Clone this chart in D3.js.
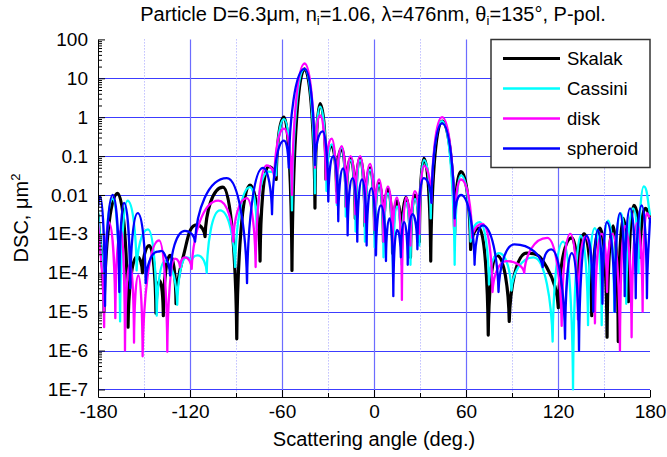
<!DOCTYPE html>
<html><head><meta charset="utf-8">
<script src="https://cdn.jsdelivr.net/npm/d3@7"></script>
<style>body{margin:0;background:#fff}svg{display:block;font-family:"Liberation Sans",Arial,sans-serif}</style>
</head><body>
<svg id="c" width="667" height="457"></svg>
<script>
// ---------------- data (angle in degrees, DSC in µm²) ----------------
const seriesNames = ["Skalak", "Cassini", "disk", "spheroid"];
const seriesColors = ["#000000", "#00ffff", "#ff00ff", "#0000ff"];
const xTickValues = [-180, -120, -60, 0, 60, 120, 180];
const xTickLabels = ["-180", "-120", "-60", "0", "60", "120", "180"];
const yTickValues = [100, 10, 1, 0.1, 0.01, 1e-3, 1e-4, 1e-5, 1e-6, 1e-7];
const yTickLabels = ["100", "10", "1", "0.1", "0.01", "1E-3", "1E-4", "1E-5", "1E-6", "1E-7"];

const skalak = [[-180,3.2e-3],[-176,1e-5],[-167.2,1.1e-2],[-160.4,4e-6],[-154.6,2.6e-4],[-151,1e-4],[-146.5,5e-4],
[-142.2,9.1e-6],[-139.8,6.3e-5],[-137.4,7.9e-6],[-133,2.8e-4],[-129.1,1.6e-5],[-124.4,2.6e-4],[-115.6,1.7e-3],
[-110.2,8.5e-4],[-98.5,1.6e-2],[-89.5,2e-6],[-80.9,1.8e-2],[-74.3,2e-4],[-68.9,5.4e-2],[-63.8,2.5e-2],[-58.7,1.0],
[-53.5,1.15e-4],[-45.3,17.4],[-38.5,4.6e-3],[-35.2,2.24],[-31.3,2.5e-2],[-27.6,0.18],[-24.4,1.26e-2],[-21.1,0.16],
[-18.2,5e-3],[-15.2,8.9e-2],[-12.2,2.5e-3],[-9.1,8.9e-2],[-5.9,1.6e-3],[-2.6,5e-2],[0.4,1e-3],[3.3,2e-2],[6.2,6.3e-4],
[9.1,1.4e-2],[12.1,3.2e-4],[15,7.1e-3],[18,4e-4],[20.9,8.7e-3],[23.8,2.5e-4],[26.7,1e-2],[29.6,6.3e-4],[32.6,8.7e-2],
[37.0,2e-4],[44.4,0.79],[52.6,1e-3],[56.7,4e-2],[63,4e-4],[68.5,1.4e-3],[74.5,2.5e-6],[80,2.8e-4],[88.2,5.6e-6],
[99.6,3.2e-4],[112.6,1.4e-4],[120.2,1.26e-5],[129,7.9e-4],[133,3.2e-5],[137,1e-3],[142,7.9e-6],[147.4,1.4e-3],
[152,2.2e-6],[156,1.6e-3],[159.3,1.7e-6],[162.5,2.5e-3],[165.9,1.8e-5],[169.5,5.4e-3],[173.5,2.5e-4],[177,4.5e-3],[180,2.5e-3]];

const cassini = [[-180,4e-3],[-176,1e-5],[-170.5,7.9e-3],[-165.6,5.6e-6],[-160.7,7.1e-3],[-154.8,1.15e-4],[-147.4,1.3e-3],
[-141.7,7.9e-6],[-136.3,2e-4],[-128.3,1.5e-5],[-122.2,2.5e-4],[-119,1.9e-4],[-115,2.8e-4],[-109.1,1e-4],[-100.4,4e-3],
[-90.6,1.4e-4],[-80.9,1.6e-2],[-76.5,1.4e-3],[-68.9,4e-2],[-63.8,3.2e-2],[-58.7,0.89],[-53.5,4e-3],[-45.3,17.4],
[-38.5,1.1e-2],[-35.2,1.86],[-31,1.26e-2],[-27.6,0.2],[-24.2,5.5e-3],[-21.1,0.166],[-18.4,2.8e-3],[-15.2,7.9e-2],
[-12,1.15e-3],[-9.1,7.9e-2],[-5.9,6.3e-4],[-2.6,4.5e-2],[0.4,4.5e-4],[3.3,1.8e-2],[6.2,2.5e-4],[9.1,1.1e-2],[12.4,7.9e-5],
[15,5e-3],[18,1.6e-4],[20.9,6.3e-3],[23.8,1.6e-4],[26.7,7.9e-3],[29.6,5e-4],[32.6,7.9e-2],[37.0,2.5e-3],[44.4,0.79],
[52.6,1.6e-4],[56.7,3.2e-2],[63,6.3e-4],[68.9,2e-3],[75,5e-5],[81.5,3.2e-4],[89.6,3.5e-5],[104,2.5e-4],[116.5,1.7e-6],
[123.3,6.3e-4],[129.8,1e-7],[134.8,8.9e-4],[139.6,4.5e-6],[144,1.4e-3],[148.5,4.5e-6],[152.7,2.2e-3],[156.7,1e-5],
[161,3.4e-3],[164.5,1.6e-5],[169,4.5e-3],[172.5,1e-4],[176,1.66e-2],[180,3.2e-3]];

const disk = [[-180,2.2e-3],[-176,4e-6],[-173,2e-3],[-168.7,6.8e-6],[-165,1.26e-3],[-162.4,1e-6],[-159.1,1.7e-4],
[-156.5,1.6e-6],[-153.7,8.5e-5],[-150.9,7.1e-7],[-140.2,6.8e-4],[-134.8,9.3e-7],[-129.8,2.3e-4],[-126.5,1.4e-4],
[-123.3,2.5e-4],[-118.9,1.26e-4],[-101.5,7.2e-3],[-91.8,6.3e-4],[-83,8.3e-3],[-77.2,1.4e-4],[-70,5.8e-2],[-65,2.8e-2],
[-58.7,0.51],[-53.5,1e-2],[-45.3,24],[-38.5,5e-2],[-35.2,1.12],[-31.4,2.5e-2],[-27.6,0.28],[-24.4,6.3e-3],[-21.1,0.18],
[-18.2,5e-3],[-15.2,0.1],[-12.2,3.2e-3],[-9.1,0.1],[-5.9,2e-3],[-2.6,6.3e-2],[0.4,1.26e-3],[3.3,2.5e-2],[6.2,6.3e-4],
[9.1,1.66e-2],[12.1,5e-4],[15,8.7e-3],[18.2,2e-5],[20.9,8.7e-3],[23.8,5e-4],[26.7,1.26e-2],[29.6,1e-3],[32.6,5.6e-2],
[37.5,6.3e-3],[44.4,1.0],[52.6,1.6e-3],[56.7,2.5e-2],[64,7.9e-4],[70.8,1.8e-3],[77.3,3.2e-5],[86.4,2e-4],[98,1e-4],
[113,7.9e-4],[122.4,4.3e-6],[128,1e-3],[133,6.3e-6],[137.6,8.5e-4],[144.1,5e-6],[148.5,1e-3],[152,3.2e-5],[155.5,1e-3],
[160.4,1e-6],[163.6,1.6e-3],[168,2.2e-6],[171.5,1.9e-3],[175.2,1e-5],[177.8,3.4e-3],[180,2.5e-3]];

const spheroid = [[-180,5e-3],[-178.7,9.3e-3],[-175.4,1.4e-5],[-170.4,1e-2],[-166.1,3.2e-5],[-163,6.3e-3],[-159,4e-5],
[-154.1,3.4e-3],[-148.9,5.4e-5],[-141,3.5e-4],[-137,3.2e-4],[-133,8.5e-5],[-123.3,1.2e-3],[-116.7,6.3e-4],[-96,2.7e-2],
[-82.8,5.4e-5],[-72.4,5e-2],[-66.5,3.2e-3],[-58.7,0.25],[-55.6,5e-2],[-45.3,17.4],[-38.5,5.9e-2],[-33.5,0.43],
[-29.8,6.8e-3],[-26.5,0.1],[-23.3,2.1e-3],[-20.2,4.8e-2],[-17.2,9.1e-4],[-14,2.7e-2],[-10.9,6.3e-4],[-7.8,2.5e-2],
[-4.8,5e-4],[-1.7,1.5e-2],[1.3,2.8e-4],[4.5,5.4e-3],[7.8,2e-4],[10.2,2.5e-3],[12.6,2.5e-5],[15,1.26e-3],[17.5,2.5e-4],
[19.7,2e-3],[22,1.6e-4],[25.1,3.2e-3],[28.3,4e-4],[32.5,2.7e-2],[37.5,6.3e-3],[44.4,0.69],[52.6,2.5e-3],[56.7,1e-2],
[65.6,1.6e-4],[70.8,1.66e-3],[81.2,3.2e-5],[91.6,5.4e-4],[110,1.4e-4],[115.5,4e-4],[124.6,2e-6],[129,3.2e-4],
[133.7,1e-6],[138.7,8.9e-4],[143,1e-5],[146,1.26e-3],[149,1.6e-5],[151.8,2e-3],[157,1e-5],[160.4,3.4e-3],[163.5,2.5e-5],
[167,4.5e-3],[170.7,2.2e-5],[174.6,5.4e-3],[178,2.2e-5],[180,2.5e-3]];

const allSeries = [skalak, cassini, disk, spheroid];

// ---------------- layout ----------------
const svg = d3.select("#c");
const L = 98, R = 650, T = 39.4, B = 397;
const x = d3.scaleLinear().domain([-180, 180]).range([L, R]);
const y = d3.scaleLog().domain([6.4e-8, 100]).range([B, T]);

svg.append("defs").append("clipPath").attr("id", "clip")
  .append("rect").attr("x", L).attr("y", T - 3).attr("width", R - L + 1).attr("height", B - T + 3);

// grid
const grid = svg.append("g");
grid.selectAll(".hg").data(yTickValues.slice(1)).join("line")
  .attr("x1", L).attr("x2", R).attr("y1", d => Math.round(y(d)) + 0.5).attr("y2", d => Math.round(y(d)) + 0.5)
  .attr("stroke", "#3c3cff").attr("stroke-width", 1.2);
grid.selectAll(".vg").data([-120, -60, 0, 60, 120]).join("line")
  .attr("x1", d => Math.round(x(d)) + 0.5).attr("x2", d => Math.round(x(d)) + 0.5).attr("y1", T).attr("y2", B)
  .attr("stroke", "#6c6cff").attr("stroke-width", 1.2);
grid.selectAll(".vd").data([-150, -90, -30, 30, 90, 150]).join("line")
  .attr("x1", d => Math.round(x(d)) + 0.5).attr("x2", d => Math.round(x(d)) + 0.5).attr("y1", T).attr("y2", B)
  .attr("stroke", "#a0a0ff").attr("stroke-width", 1).attr("stroke-dasharray", "1,2");

// curve builder: rounded arches with cusp-like minima (log-scale interference pattern)
function archPath(data) {
  const p = data.map(d => [x(d[0]), y(Math.max(d[1], 6.4e-8))]);
  const n = p.length;
  const type = p.map((q, i) => {
    if (i === 0 || i === n - 1) return 0;
    if (q[1] < p[i - 1][1] && q[1] < p[i + 1][1]) return 1;
    if (q[1] > p[i - 1][1] && q[1] > p[i + 1][1]) return -1;
    return 0;
  });
  const slope = i => {
    const a = p[Math.max(0, i - 1)], b = p[Math.min(n - 1, i + 1)];
    return (b[1] - a[1]) / (b[0] - a[0]);
  };
  function handle(i, j) {
    const dx = p[j][0] - p[i][0], dy = p[j][1] - p[i][1];
    if (type[i] === 1) return [p[i][0] + dx * 0.58, p[i][1]];
    if (type[i] === -1) return [p[i][0] + dx * 0.05, p[i][1] + dy * 0.5];
    const s = slope(i);
    return [p[i][0] + dx / 3, p[i][1] + s * dx / 3];
  }
  const path = d3.path();
  path.moveTo(p[0][0], p[0][1]);
  for (let i = 0; i < n - 1; i++) {
    const c1 = handle(i, i + 1), c2 = handle(i + 1, i);
    path.bezierCurveTo(c1[0], c1[1], c2[0], c2[1], p[i + 1][0], p[i + 1][1]);
  }
  return path.toString();
}

const widths = [3.2, 2.3, 2.3, 2.3];
const lines = svg.append("g").attr("clip-path", "url(#clip)");
allSeries.forEach((s, k) => {
  lines.append("path").attr("d", archPath(s)).attr("fill", "none")
    .attr("stroke", seriesColors[k]).attr("stroke-width", widths[k])
    .attr("stroke-linejoin", "round").attr("stroke-linecap", "round");
});

// axes
const fs = 19;
const yAxis = d3.axisLeft(y).tickValues(yTickValues).tickFormat((d, i) => yTickLabels[i])
  .tickSize(-7).tickSizeOuter(0).tickPadding(10);
const gy = svg.append("g").attr("transform", `translate(${L},0)`).call(yAxis);
gy.selectAll("text").attr("font-size", fs).attr("font-family", '"Liberation Sans",Arial,sans-serif').attr("fill", "#000");
gy.select(".domain").attr("stroke", "#000");
const minorY = [];
yTickValues.forEach(d => { if (d < 100) for (let m = 2; m <= 9; m++) minorY.push(d * m); });
svg.append("g").attr("transform", `translate(${L},0)`)
  .call(d3.axisLeft(y).tickValues(minorY).tickFormat("").tickSize(-4).tickSizeOuter(0))
  .call(g => g.select(".domain").remove());

const xAxis = d3.axisBottom(x).tickValues(xTickValues).tickFormat((d, i) => xTickLabels[i])
  .tickSize(-7).tickSizeOuter(0).tickPadding(8);
const gx = svg.append("g").attr("transform", `translate(0,${B})`).call(xAxis);
gx.selectAll("text").attr("font-size", fs).attr("font-family", '"Liberation Sans",Arial,sans-serif').attr("fill", "#000");
gx.select(".domain").attr("stroke", "#000");
svg.append("g").attr("transform", `translate(0,${B})`)
  .call(d3.axisBottom(x).tickValues([-150, -90, -30, 30, 90, 150]).tickFormat("").tickSize(-4).tickSizeOuter(0))
  .call(g => g.select(".domain").remove());

// labels
svg.append("text").attr("x", 374).attr("y", 446).attr("text-anchor", "middle").attr("font-size", 20)
  .text("Scattering angle (deg.)");
const yl = svg.append("text").attr("transform", "translate(28,218) rotate(-90)").attr("text-anchor", "middle").attr("font-size", 20);
yl.append("tspan").text("DSC, \u03bcm");
yl.append("tspan").attr("font-size", 13).attr("dy", -8).text("2");

const title = svg.append("text").attr("x", 373).attr("y", 21).attr("text-anchor", "middle").attr("font-size", 20);
title.append("tspan").text("Particle D=6.3\u03bcm, n");
title.append("tspan").attr("font-size", 13).attr("dy", 4).text("i");
title.append("tspan").attr("dy", -4).text("=1.06, \u03bb=476nm, \u03b8");
title.append("tspan").attr("font-size", 13).attr("dy", 4).text("i");
title.append("tspan").attr("dy", -4).text("=135\u00b0, P-pol.");

// legend
const lg = svg.append("g");
lg.append("rect").attr("x", 491).attr("y", 39.5).attr("width", 159).attr("height", 128)
  .attr("fill", "#fff").attr("stroke", "#333").attr("stroke-width", 1.5);
seriesNames.forEach((nm, k) => {
  const yy = 58.5 + k * 30;
  lg.append("line").attr("x1", 503).attr("x2", 560).attr("y1", yy).attr("y2", yy)
    .attr("stroke", seriesColors[k]).attr("stroke-width", k === 0 ? 3.2 : 2.3);
  lg.append("text").attr("x", 567).attr("y", yy).attr("dy", "0.35em").attr("font-size", 18.5).text(nm);
});
</script>
</body></html>
